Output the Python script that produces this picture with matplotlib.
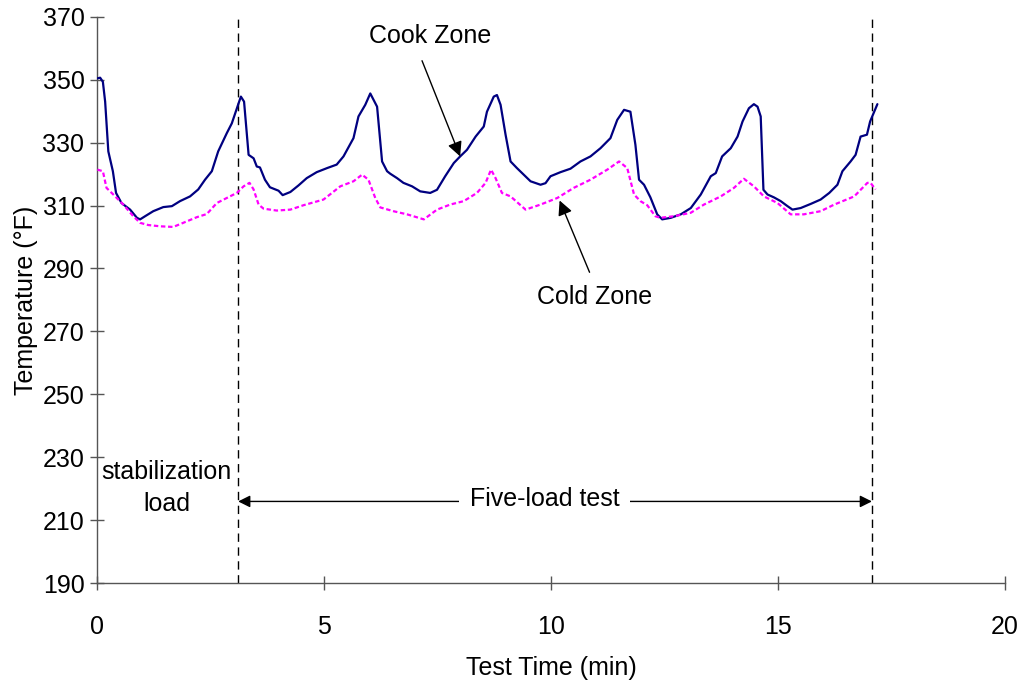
import matplotlib
matplotlib.use("Agg")
import matplotlib.pyplot as plt

plt.rcParams['font.family'] = ['Liberation Sans', 'DejaVu Sans']

# Cook zone temperature (°F) against test time (min)
cook_time = [0.01, 0.07, 0.13, 0.18, 0.25, 0.35, 0.42, 0.54, 0.73, 0.88, 0.95, 1.06,
             1.24, 1.46, 1.65, 1.83, 2.05, 2.23, 2.38, 2.53, 2.67, 2.86, 2.97, 3.12,
             3.17, 3.24, 3.34, 3.45, 3.52, 3.59, 3.70, 3.81, 4.00, 4.09, 4.26, 4.44,
             4.62, 4.84, 5.07, 5.28, 5.43, 5.65, 5.76, 5.91, 6.02, 6.17, 6.28, 6.39,
             6.46, 6.61, 6.75, 6.94, 7.12, 7.34, 7.49, 7.67, 7.86, 8.00, 8.15, 8.34,
             8.52, 8.59, 8.74, 8.81, 8.89, 9.00, 9.11, 9.25, 9.40, 9.55, 9.77, 9.88,
             9.99, 10.21, 10.43, 10.65, 10.87, 11.09, 11.31, 11.46, 11.61, 11.75, 11.86,
             11.94, 12.05, 12.19, 12.34, 12.45, 12.64, 12.86, 13.08, 13.30, 13.52, 13.63,
             13.77, 13.96, 14.11, 14.22, 14.36, 14.47, 14.55, 14.62, 14.68, 14.77, 14.91,
             15.06, 15.21, 15.32, 15.50, 15.72, 15.94, 16.13, 16.31, 16.42, 16.60, 16.71,
             16.82, 16.96, 17.03, 17.19]
cook_temp = [350.4, 350.6, 349.3, 343.0, 327.2, 320.9, 314.0, 310.8, 308.7, 306.1, 305.6, 306.6,
             308.2, 309.5, 309.8, 311.4, 312.9, 315.1, 318.2, 320.9, 327.2, 333.0, 336.1, 342.5,
             344.6, 343.0, 326.1, 325.0, 322.4, 322.1, 318.2, 315.8, 314.7, 313.3, 314.3, 316.4,
             318.7, 320.6, 321.9, 323.0, 325.6, 331.4, 338.3, 342.0, 345.6, 341.4, 324.0, 320.9,
             320.1, 318.7, 317.2, 316.1, 314.5, 314.0, 315.0, 319.3, 323.5, 325.6, 327.7, 331.9,
             335.1, 339.8, 344.6, 345.1, 342.0, 332.5, 324.0, 321.9, 319.8, 317.7, 316.6, 317.1,
             319.3, 320.6, 321.7, 324.0, 325.6, 328.2, 331.4, 337.2, 340.4, 339.8, 329.3,
             318.2, 316.6, 312.6, 307.2, 305.6, 306.1, 307.2, 309.2, 313.5, 319.3, 320.3,
             325.6, 328.2, 331.9, 336.7, 340.9, 342.2, 341.4, 338.3, 315.0, 313.5, 312.6,
             311.4, 309.8, 308.7, 309.2, 310.5, 311.9, 314.0, 316.6, 320.9, 324.0, 326.1,
             331.9, 332.5, 336.7, 342.2]

# Cold zone temperature (°F) against test time (min)
cold_time = [0.01, 0.13, 0.21, 0.36, 0.58, 0.80, 0.95, 1.13, 1.39, 1.68, 1.90, 2.20,
             2.42, 2.64, 2.86, 3.08, 3.23, 3.36, 3.45, 3.56, 3.67, 3.96, 4.26, 4.55,
             4.99, 5.36, 5.65, 5.84, 5.98, 6.13, 6.24, 6.53, 6.83, 7.20, 7.49, 7.78,
             8.08, 8.37, 8.56, 8.68, 8.78, 8.92, 9.11, 9.44, 9.77, 10.14, 10.50, 10.87,
             11.24, 11.50, 11.68, 11.83, 11.97, 12.12, 12.30, 12.41, 12.71, 13.08, 13.37,
             13.74, 14.03, 14.25, 14.47, 14.69, 14.99, 15.28, 15.57, 15.94, 16.24, 16.68,
             16.97, 17.04, 17.15]
cold_temp = [321.4, 320.9, 315.6, 313.5, 310.3, 306.6, 304.5, 303.8, 303.4, 303.2, 304.5, 306.3,
             307.3, 310.8, 312.4, 314.0, 316.1, 317.2, 315.1, 310.3, 309.0, 308.4, 308.7, 310.1,
             311.9, 316.1, 317.7, 319.8, 318.2, 312.4, 309.4, 308.2, 307.2, 305.6, 308.7, 310.3,
             311.4, 314.0, 317.2, 321.4, 318.7, 314.0, 312.9, 308.7, 310.3, 312.4, 315.6, 318.2,
             321.4, 324.0, 321.9, 313.5, 311.4, 310.1, 306.6, 306.1, 306.6, 307.7, 310.3,
             312.9, 315.6, 318.5, 316.1, 312.9, 310.8, 307.2, 307.2, 308.2, 310.3, 312.9,
             317.2, 317.2, 315.1]

# Boundaries of the stabilization load and the five-load test (min)
test_start = 3.11
test_end = 17.07

x_ticks = [0, 5, 10, 15, 20]
y_ticks = [190, 210, 230, 250, 270, 290, 310, 330, 350, 370]

FS = 18

fig = plt.figure(figsize=(10.24, 6.85), dpi=100)
ax = fig.add_axes([0.0947, 0.1485, 0.8867, 0.8272])

ax.plot(cook_time, cook_temp, color='#000080', linewidth=1.6, zorder=3,
        solid_joinstyle='round', solid_capstyle='round')
ax.plot(cold_time, cold_temp, color='#FF00FF', linewidth=1.6,
        linestyle=(0, (2, 1.2)), zorder=3)

for xv in (test_start, test_end):
    ax.axvline(xv, color='black', linewidth=1.0, linestyle=(0, (6, 4)), zorder=2)

ax.set_xlim(0, 20)
ax.set_ylim(190, 370)
ax.set_xticks(x_ticks)
ax.set_yticks(y_ticks)

spine_color = '#555555'
for side in ('top', 'right'):
    ax.spines[side].set_visible(False)
for side in ('left', 'bottom'):
    ax.spines[side].set_color(spine_color)
    ax.spines[side].set_linewidth(1.0)
ax.tick_params(direction='inout', length=10, width=1.0, color=spine_color,
               labelsize=FS, labelcolor='black')
ax.tick_params(axis='x', pad=18)
ax.tick_params(axis='y', pad=4)

ax.set_xlabel('Test Time (min)', fontsize=FS, labelpad=12)
ax.set_ylabel('Temperature (°F)', fontsize=FS, labelpad=3)

# Zone labels with pointer arrows
ax.text(7.34, 363.9, 'Cook Zone', fontsize=FS, ha='center', va='center')
ax.annotate('', xy=(8.0, 325.6), xytext=(7.16, 356.0),
            arrowprops=dict(arrowstyle='-|>', color='black', lw=1.0,
                            mutation_scale=22, shrinkA=0, shrinkB=0))
ax.text(10.96, 281.0, 'Cold Zone', fontsize=FS, ha='center', va='center')
ax.annotate('', xy=(10.19, 311.6), xytext=(10.85, 288.8),
            arrowprops=dict(arrowstyle='-|>', color='black', lw=1.0,
                            mutation_scale=22, shrinkA=0, shrinkB=0))

# Test-period span
ax.annotate('', xy=(test_start, 216.0), xytext=(test_end, 216.0),
            arrowprops=dict(arrowstyle='<|-|>', color='black', lw=1.0,
                            mutation_scale=18, shrinkA=0, shrinkB=0))
ax.text(9.86, 216.8, 'Five-load test', fontsize=FS, ha='center', va='center',
        bbox=dict(facecolor='white', edgecolor='none', pad=8), zorder=4)
ax.text(1.54, 220.3, 'stabilization\nload', fontsize=FS, ha='center', va='center',
        linespacing=1.38)

fig.savefig('out.png', dpi=100)
